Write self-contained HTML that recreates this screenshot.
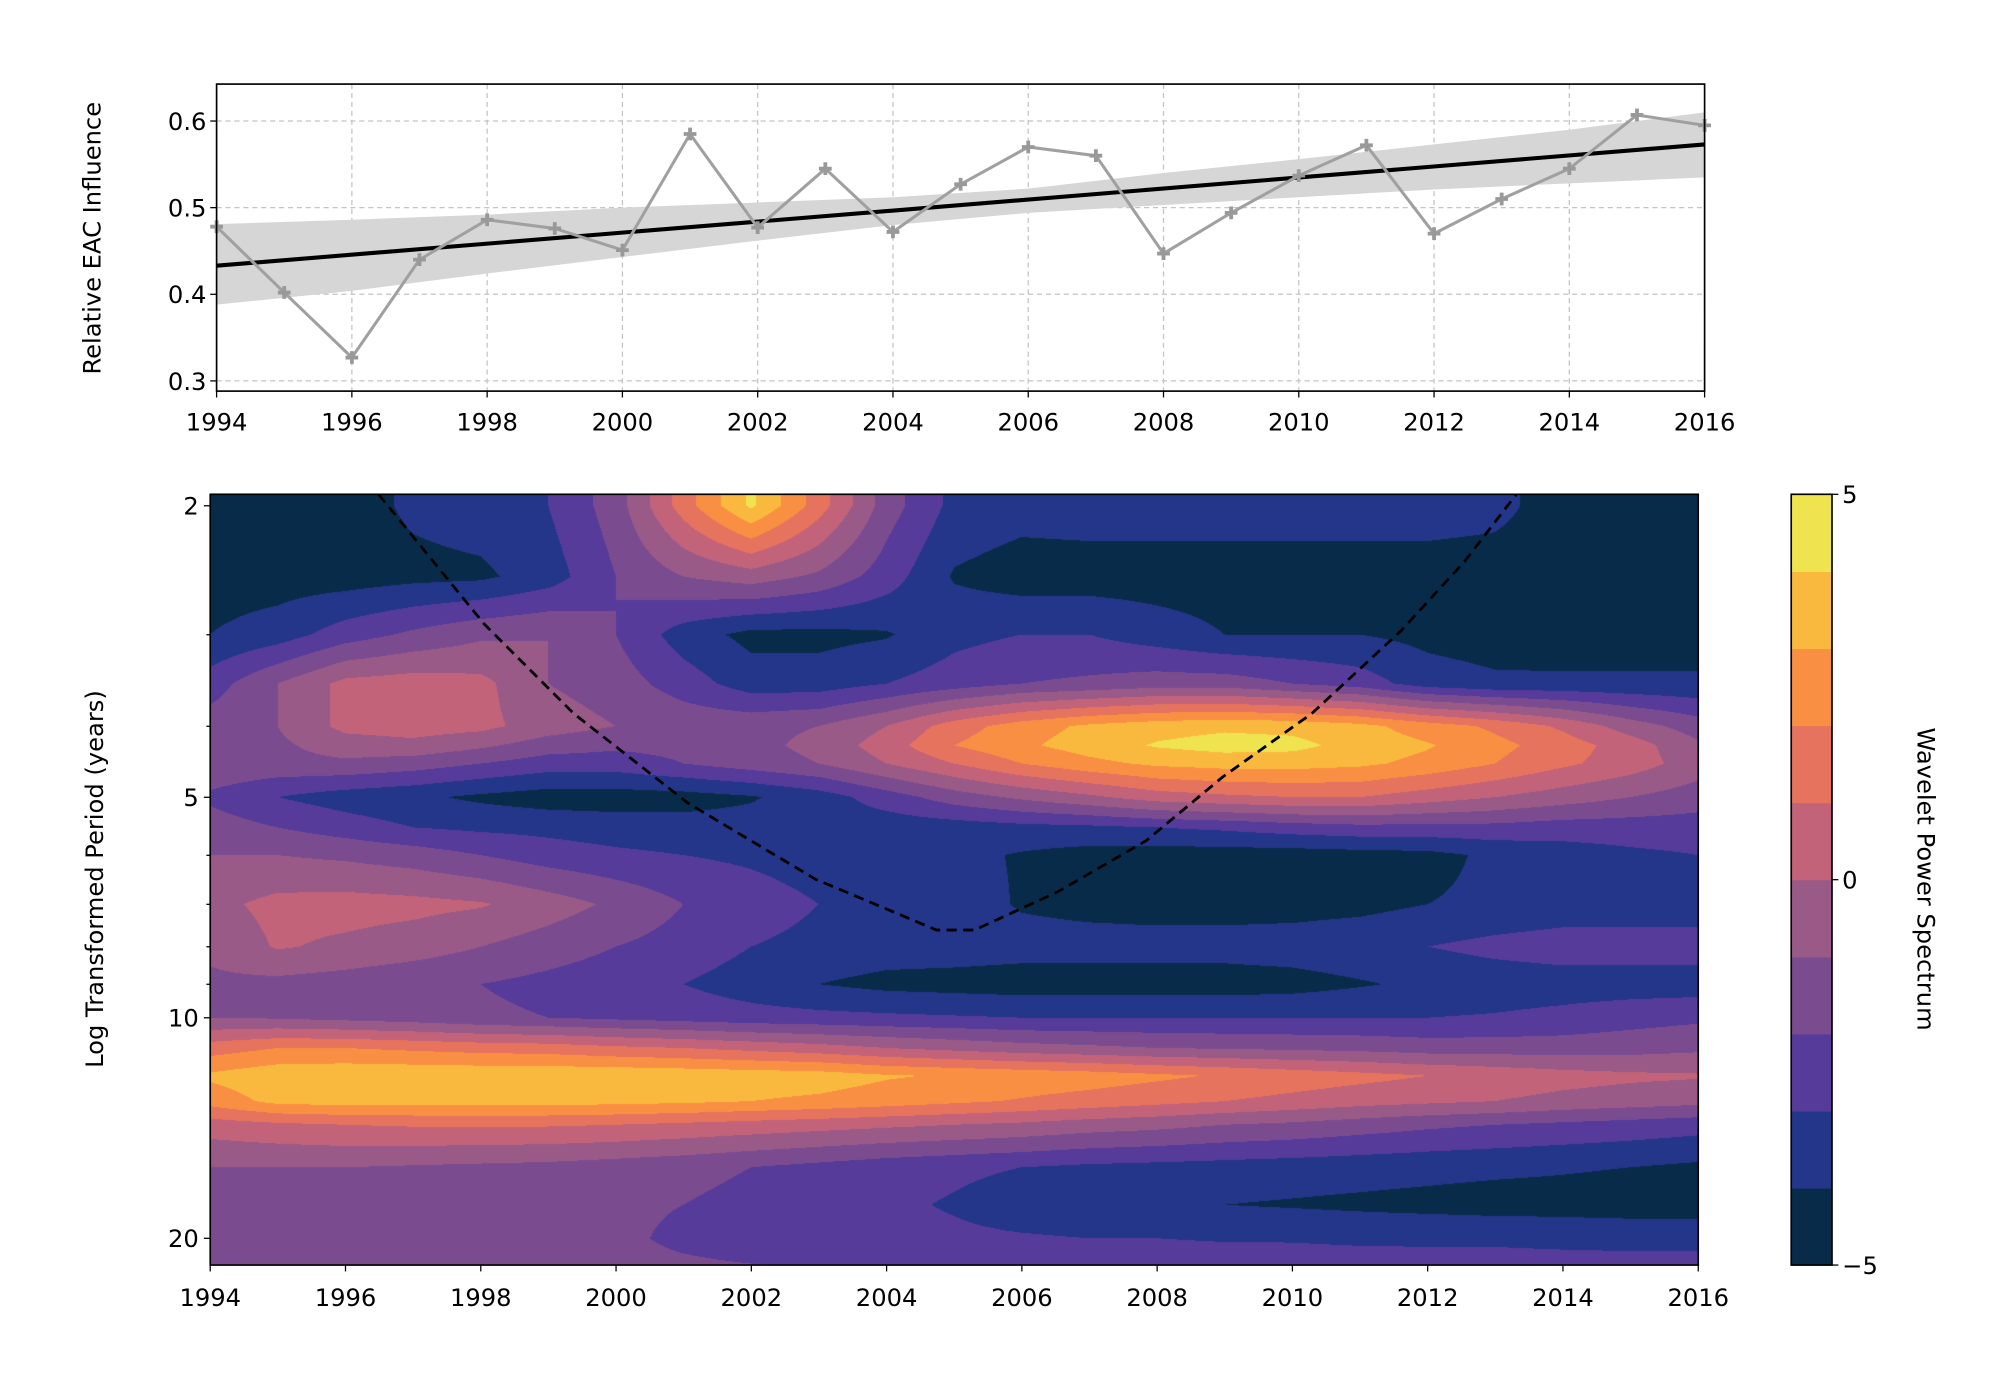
<!DOCTYPE html>
<html><head><meta charset="utf-8">
<style>
html,body{margin:0;padding:0;background:#fff;}
#wrap{position:relative;width:1997px;height:1375px;overflow:hidden;}
#cv{position:absolute;}
#sv{position:absolute;left:0;top:0;}
text{font-family:"DejaVu Sans","Liberation Sans",sans-serif;}
</style></head>
<body>
<div id="wrap">
<canvas id="cv"></canvas>
<svg id="sv" width="1997" height="1375" viewBox="0 0 1567.5 1079.3"></svg>
</div>
<script>
// ---------- Top chart data ----------
const years = [1994,1995,1996,1997,1998,1999,2000,2001,2002,2003,2004,2005,2006,2007,2008,2009,2010,2011,2012,2013,2014,2015,2016];
const eacValues = [0.478,0.402,0.327,0.440,0.486,0.476,0.451,0.585,0.477,0.545,0.472,0.527,0.570,0.560,0.447,0.494,0.537,0.572,0.470,0.510,0.545,0.607,0.595];
const trendEnds = [0.433,0.573];
const ciYears = [1994,1996,1998,2000,2002,2004,2006,2008,2010,2012,2014,2016];
const ciLow = [0.388,0.404,0.424,0.443,0.462,0.480,0.494,0.503,0.512,0.521,0.528,0.535];
const ciHigh = [0.481,0.486,0.492,0.500,0.506,0.512,0.522,0.540,0.556,0.573,0.590,0.610];
const topYTicks = [0.3,0.4,0.5,0.6];
const xTickYears = [1994,1996,1998,2000,2002,2004,2006,2008,2010,2012,2014,2016];

// ---------- Wavelet data ----------
const wavePeriods = [2,2.5,3,3.5,4,4.25,4.5,5,5.5,6,7,8,9,10,11,12,13,14,16,18,20,22];
const wavePower = [
[-4.6,-4.6,-4.5,-3.8,-3.5,-3.0,-1.5,1.5,4.2,1.5,-1.5,-3.3,-3.6,-3.5,-3.5,-3.5,-3.5,-3.5,-3.5,-3.7,-4.5,-4.6,-4.6],
[-4.5,-4.5,-4.5,-4.3,-4.2,-3.5,-2.0,-1.0,-0.5,-1.2,-2.5,-4.1,-4.5,-4.5,-4.5,-4.5,-4.5,-4.5,-4.5,-4.5,-4.5,-4.5,-4.5],
[-4.0,-3.5,-2.5,-1.8,-1.2,-1.0,-2.0,-3.5,-4.3,-4.3,-4.1,-3.3,-3.0,-3.0,-3.5,-4.0,-4.0,-4.0,-4.3,-4.5,-4.6,-4.6,-4.6],
[-2.5,-1.0,0.3,0.5,0.3,-1.0,-1.5,-2.5,-3.5,-3.5,-3.0,-2.5,-2.0,-1.8,-1.5,-1.5,-2.0,-2.5,-3.5,-3.8,-3.8,-3.8,-3.8],
[-1.5,-1.0,0.3,0.5,0.3,-0.5,-1.0,-1.3,-1.3,-1.0,0.0,1.5,2.5,3.2,3.6,3.8,3.7,3.3,2.5,1.8,0.8,-0.5,-1.5],
[-1.3,-1.2,-0.5,-0.3,-0.8,-1.5,-1.8,-1.7,-1.3,-0.7,0.5,2.0,2.8,3.5,4.1,4.4,4.3,3.6,3.1,2.3,1.5,0.5,-0.8],
[-1.2,-1.3,-1.2,-1.5,-2.0,-2.5,-2.5,-2.0,-1.5,-1.0,0.0,1.0,2.0,2.7,3.2,3.4,3.4,3.2,2.7,2.0,1.2,0.5,-0.5],
[-2.2,-3.0,-3.5,-3.8,-4.2,-4.5,-4.5,-4.4,-4.1,-3.5,-2.5,-1.5,-0.8,-0.2,0.5,0.8,1.0,1.0,0.5,0.0,-0.5,-1.0,-1.5],
[-1.5,-2.0,-2.5,-3.0,-3.2,-3.3,-3.5,-3.6,-3.6,-3.5,-3.6,-3.5,-3.3,-3.2,-3.0,-2.8,-2.5,-2.3,-2.3,-2.3,-2.5,-2.5,-2.5],
[-1.0,-1.0,-1.2,-1.5,-2.0,-2.5,-2.8,-3.0,-3.2,-3.5,-3.6,-3.7,-4.1,-4.4,-4.5,-4.5,-4.5,-4.4,-4.3,-3.8,-3.5,-3.2,-3.0],
[-0.3,0.3,0.4,0.3,0.1,-0.5,-1.2,-2.0,-2.5,-3.0,-3.3,-3.5,-4.1,-4.3,-4.4,-4.4,-4.4,-4.3,-4.0,-3.8,-3.6,-3.6,-3.6],
[-0.8,0.1,-0.2,-0.5,-1.0,-1.5,-2.0,-2.4,-3.0,-3.3,-3.5,-3.5,-3.6,-3.6,-3.6,-3.6,-3.5,-3.3,-3.0,-2.7,-2.5,-2.5,-2.5],
[-1.2,-1.3,-1.5,-1.8,-2.0,-2.3,-2.6,-3.0,-3.5,-4.0,-4.3,-4.4,-4.5,-4.5,-4.5,-4.5,-4.4,-4.1,-3.8,-3.6,-3.5,-3.5,-3.5],
[-1.0,-1.1,-1.3,-1.5,-1.8,-2.0,-2.2,-2.4,-2.6,-2.7,-2.8,-2.9,-3.0,-3.0,-3.0,-3.0,-3.0,-3.0,-3.0,-2.9,-2.7,-2.4,-2.2],
[1.5,2.0,2.0,1.8,1.6,1.5,1.2,1.0,0.7,0.4,0.0,-0.3,-0.6,-0.8,-1.0,-1.1,-1.2,-1.3,-1.5,-1.5,-1.5,-1.4,-1.2],
[3.2,3.7,3.8,3.8,3.8,3.8,3.8,3.7,3.6,3.5,3.1,2.9,2.7,2.5,2.2,1.9,1.6,1.3,1.0,0.7,0.4,0.2,0.1],
[2.4,3.3,3.4,3.4,3.4,3.4,3.3,3.2,3.0,2.8,2.5,2.2,1.9,1.6,1.3,1.0,0.7,0.4,0.2,0.0,-0.3,-0.5,-0.7],
[0.5,0.8,1.0,1.1,1.1,1.1,1.0,0.8,0.6,0.4,0.2,0.0,-0.2,-0.5,-0.7,-1.0,-1.2,-1.5,-1.8,-2.0,-2.2,-2.4,-2.6],
[-1.0,-1.0,-1.0,-1.1,-1.2,-1.3,-1.5,-1.7,-2.0,-2.3,-2.6,-2.8,-3.0,-3.2,-3.3,-3.4,-3.5,-3.6,-3.7,-3.8,-3.9,-4.0,-4.2],
[-1.4,-1.4,-1.4,-1.5,-1.5,-1.6,-1.8,-2.0,-2.3,-2.5,-2.8,-3.1,-3.5,-3.7,-3.9,-4.0,-4.1,-4.2,-4.3,-4.4,-4.4,-4.5,-4.5],
[-1.5,-1.5,-1.5,-1.5,-1.5,-1.6,-1.8,-2.2,-2.5,-2.6,-2.7,-2.8,-2.9,-3.0,-3.0,-3.1,-3.1,-3.2,-3.2,-3.2,-3.3,-3.3,-3.3],
[-1.5,-1.5,-1.5,-1.5,-1.6,-1.6,-1.7,-1.8,-1.9,-2.0,-2.1,-2.2,-2.2,-2.3,-2.3,-2.3,-2.4,-2.4,-2.5,-2.5,-2.5,-2.6,-2.6]
];
const levelColors = ['#092b4a','#243689','#563b9a','#7a4c8f','#9a5a88','#c2637a','#e6735d','#f98f43','#f9b93f','#f0e350'];
const levelMin = -5, levelMax = 5;
const cbTicks = [-5,0,5];
const periodTicks = [2,5,10,20];
const minorPeriodTicks = [3,4,6,7,8,9];
const coiYears = [1996.49,1998.05,1999.37,2001.06,2002.95,2004.74,2005.30,2006.53,2007.84,2008.97,2010.29,2011.61,2012.55,2013.31];
const coiPeriods = [1.93,2.90,3.84,5.09,6.47,7.59,7.59,6.73,5.73,4.69,3.84,2.96,2.38,1.93];

// ---------- geometry (viewBox units) ----------
const S = 1997/1567.5;
const FS = 19;
const T = {l:170,r:1338,t:66,b:307};
const B = {l:165,r:1333,t:388,b:993};
const CB = {l:1406,r:1438,t:388,b:993};
const txT = y => T.l + (y-1994)/22*(T.r-T.l);
const tyT = v => 163 - (v-0.5)*680;
const txB = y => B.l + (y-1994)/22*(B.r-B.l);
const tyB = p => 397 + (Math.log10(p)-Math.log10(2))*575;
const tyCB = v => CB.b - (v-levelMin)/(levelMax-levelMin)*(CB.b-CB.t);

const NS='http://www.w3.org/2000/svg';
const svg=document.getElementById('sv');
function mk(tag,attrs,parent){const e=document.createElementNS(NS,tag);for(const k in attrs)e.setAttribute(k,attrs[k]);(parent||svg).appendChild(e);return e;}

// ---------- contour canvas ----------
(function(){
  const cv=document.getElementById('cv');
  const L=B.l*S, Tp=B.t*S, W=Math.round((B.r-B.l)*S), H=Math.round((B.b-B.t)*S);
  cv.width=W;cv.height=H;
  cv.style.left=L+'px';cv.style.top=Tp+'px';cv.style.width=W+'px';cv.style.height=H+'px';
  const ctx=cv.getContext('2d');const img=ctx.createImageData(W,H);
  const logs=wavePeriods.map(p=>Math.log10(p));
  const rgb=levelColors.map(c=>[parseInt(c.substr(1,2),16),parseInt(c.substr(3,2),16),parseInt(c.substr(5,2),16)]);
  for(let py=0;py<H;py++){
    const yd=B.t+(py+0.5)/H*(B.b-B.t);
    const lp=(yd-397)/575+Math.log10(2);
    let r=0;while(r<logs.length-2&&lp>logs[r+1])r++;
    let fy=(lp-logs[r])/(logs[r+1]-logs[r]);fy=Math.max(0,Math.min(1,fy));
    for(let px=0;px<W;px++){
      const yr=(px+0.5)/W*22;let c=Math.floor(yr);if(c>21)c=21;const fx=yr-c;
      const v=(wavePower[r][c]*(1-fx)+wavePower[r][c+1]*fx)*(1-fy)+(wavePower[r+1][c]*(1-fx)+wavePower[r+1][c+1]*fx)*fy;
      let li=Math.floor(v-levelMin);li=Math.max(0,Math.min(9,li));
      const o=(py*W+px)*4;img.data[o]=rgb[li][0];img.data[o+1]=rgb[li][1];img.data[o+2]=rgb[li][2];img.data[o+3]=255;
    }
  }
  ctx.putImageData(img,0,0);
})();

// ---------- Top chart ----------
const gTop=mk('g',{});


xTickYears.forEach(y=>{
  const gl=mk('line',{x1:txT(y),x2:txT(y),y1:T.t,y2:T.b,stroke:'#c4c4c4','stroke-width':1,'stroke-dasharray':'4,3'},gTop);
  
  
  mk('line',{x1:txT(y),x2:txT(y),y1:T.b,y2:T.b+5,stroke:'#000','stroke-width':1},gTop);
  const t=mk('text',{x:txT(y),y:T.b+31,'text-anchor':'middle','font-size':FS},gTop);t.textContent=y;
  
  
});
topYTicks.forEach(v=>{
  const gl=mk('line',{x1:T.l,x2:T.r,y1:tyT(v),y2:tyT(v),stroke:'#c4c4c4','stroke-width':1,'stroke-dasharray':'4,3'},gTop);
  
  
  mk('line',{x1:T.l-5,x2:T.l,y1:tyT(v),y2:tyT(v),stroke:'#000','stroke-width':1},gTop);
  const t=mk('text',{x:T.l-8,y:tyT(v)+7,'text-anchor':'end','font-size':FS},gTop);t.textContent=v.toFixed(1);
  
  
});
let bandPts=ciYears.map((y,i)=>txT(y)+','+tyT(ciHigh[i]));
bandPts=bandPts.concat(ciYears.slice().reverse().map((y,i)=>txT(y)+','+tyT(ciLow[ciYears.length-1-i])));
const band=mk('polygon',{points:bandPts.join(' '),fill:'#d6d6d6'},gTop);


const trend=mk('line',{x1:txT(1994),y1:tyT(trendEnds[0]),x2:txT(2016),y2:tyT(trendEnds[1]),stroke:'#000','stroke-width':3.2},gTop);


const ser=mk('polyline',{points:years.map((y,i)=>txT(y)+','+tyT(eacValues[i])).join(' '),fill:'none',stroke:'#a0a0a0','stroke-width':2.4},gTop);


years.forEach((y,i)=>{
  const x=txT(y),yy=tyT(eacValues[i]);
  const m=mk('path',{d:`M${x-5},${yy}H${x+5}M${x},${yy-5}V${yy+5}`,stroke:'#999','stroke-width':3},gTop);
  
  
});
const fr1=mk('rect',{x:T.l,y:T.t,width:T.r-T.l,height:T.b-T.t,fill:'none',stroke:'#000','stroke-width':1.3},gTop);


const yl1=mk('text',{x:0,y:0,'text-anchor':'middle','font-size':FS,transform:`translate(79,187) rotate(-90)`},gTop);
yl1.textContent='Relative EAC Influence';



// ---------- Bottom chart ----------
const gB=mk('g',{});


const clip=mk('clipPath',{id:'bclip'},gB);mk('rect',{x:B.l,y:B.t,width:B.r-B.l,height:B.b-B.t},clip);
const coi=mk('polyline',{points:coiYears.map((y,i)=>txB(y)+','+tyB(coiPeriods[i])).join(' '),fill:'none',stroke:'#000','stroke-width':2.2,'stroke-dasharray':'8,5','clip-path':'url(#bclip)'},gB);


const fr2=mk('rect',{x:B.l,y:B.t,width:B.r-B.l,height:B.b-B.t,fill:'none',stroke:'#000','stroke-width':1.3},gB);


xTickYears.forEach(y=>{
  mk('line',{x1:txB(y),x2:txB(y),y1:B.b,y2:B.b+5,stroke:'#000','stroke-width':1},gB);
  const t=mk('text',{x:txB(y),y:B.b+32,'text-anchor':'middle','font-size':FS},gB);t.textContent=y;
  
  
});
periodTicks.forEach(p=>{
  mk('line',{x1:B.l-5,x2:B.l,y1:tyB(p),y2:tyB(p),stroke:'#000','stroke-width':1},gB);
  const t=mk('text',{x:B.l-9,y:tyB(p)+7,'text-anchor':'end','font-size':FS},gB);t.textContent=p;
  
  
});
minorPeriodTicks.forEach(p=>{mk('line',{x1:B.l-3,x2:B.l,y1:tyB(p),y2:tyB(p),stroke:'#000','stroke-width':1},gB);});
const yl2=mk('text',{x:0,y:0,'text-anchor':'middle','font-size':FS,transform:`translate(81,690) rotate(-90)`},gB);
yl2.textContent='Log Transformed Period (years)';



// ---------- Colorbar ----------
const gC=mk('g',{});


levelColors.forEach((c,i)=>{
  const r=mk('rect',{x:CB.l,y:tyCB(levelMin+i+1),width:CB.r-CB.l,height:tyCB(levelMin+i)-tyCB(levelMin+i+1)+0.5,fill:c},gC);
  
  
});
mk('rect',{x:CB.l,y:CB.t,width:CB.r-CB.l,height:CB.b-CB.t,fill:'none',stroke:'#000','stroke-width':1.3},gC);
cbTicks.forEach(v=>{
  mk('line',{x1:CB.r,x2:CB.r+5,y1:tyCB(v),y2:tyCB(v),stroke:'#000','stroke-width':1},gC);
  const t=mk('text',{x:CB.r+8,y:tyCB(v)+7,'font-size':FS},gC);t.textContent=v<0?'\u2212'+Math.abs(v):v;
  
  
});
const cbl=mk('text',{x:0,y:0,'text-anchor':'middle','font-size':FS,transform:`translate(1505,690) rotate(90)`},gC);
cbl.textContent='Wavelet Power Spectrum';


</script>
</body></html>
